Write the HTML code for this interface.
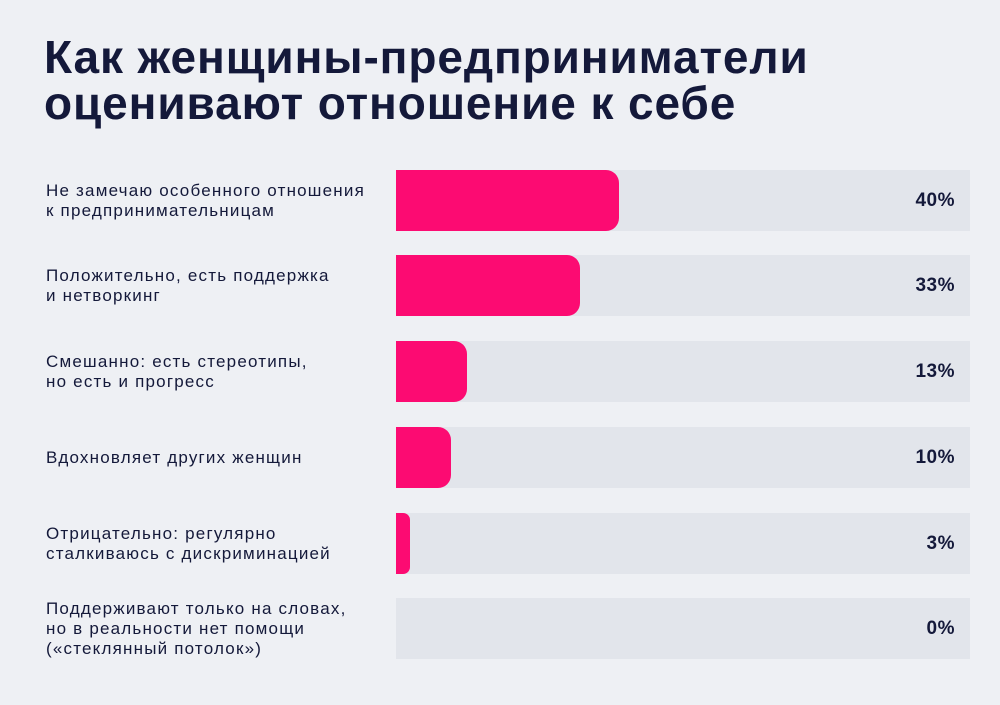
<!DOCTYPE html>
<html><head><meta charset="utf-8"><style>
body{margin:0;width:1000px;height:705px;background:#eef0f4;font-family:"Liberation Sans",sans-serif;color:#14193a;position:relative;overflow:hidden}
h1{position:absolute;left:44px;top:34px;margin:0;font-size:46px;line-height:46px;font-weight:bold;letter-spacing:0.9px}
.row{position:absolute;left:0;width:1000px;height:61px}
.lab{position:absolute;left:46px;font-size:17px;line-height:20px;top:50%;transform:translateY(-50%);letter-spacing:1.2px;white-space:nowrap}
.track{position:absolute;left:396px;width:574px;top:0;height:61px;background:#e2e5eb}
.bar{position:absolute;left:396px;top:0;height:61px;background:#fc0b72;border-radius:0 13px 13px 0}
.pct{position:absolute;right:45px;top:50%;transform:translateY(-50%);font-size:19px;font-weight:bold;letter-spacing:0.5px}
</style></head><body>
<h1>Как женщины-предприниматели<br>оценивают отношение к себе</h1>
<div class="row" style="top:170px"><div class="lab">Не замечаю особенного отношения<br>к предпринимательницам</div><div class="track"></div><div class="bar" style="width:223px"></div><div class="pct">40%</div></div>
<div class="row" style="top:255px"><div class="lab">Положительно, есть поддержка<br>и нетворкинг</div><div class="track"></div><div class="bar" style="width:184px"></div><div class="pct">33%</div></div>
<div class="row" style="top:341px"><div class="lab">Смешанно: есть стереотипы,<br>но есть и прогресс</div><div class="track"></div><div class="bar" style="width:71px"></div><div class="pct">13%</div></div>
<div class="row" style="top:427px"><div class="lab">Вдохновляет других женщин</div><div class="track"></div><div class="bar" style="width:55px"></div><div class="pct">10%</div></div>
<div class="row" style="top:513px"><div class="lab">Отрицательно: регулярно<br>сталкиваюсь с дискриминацией</div><div class="track"></div><div class="bar" style="width:14px;border-radius:0 7px 7px 0"></div><div class="pct">3%</div></div>
<div class="row" style="top:598px"><div class="lab">Поддерживают только на словах,<br>но в реальности нет помощи<br>(«стеклянный потолок»)</div><div class="track"></div><div class="pct">0%</div></div>
</body></html>
